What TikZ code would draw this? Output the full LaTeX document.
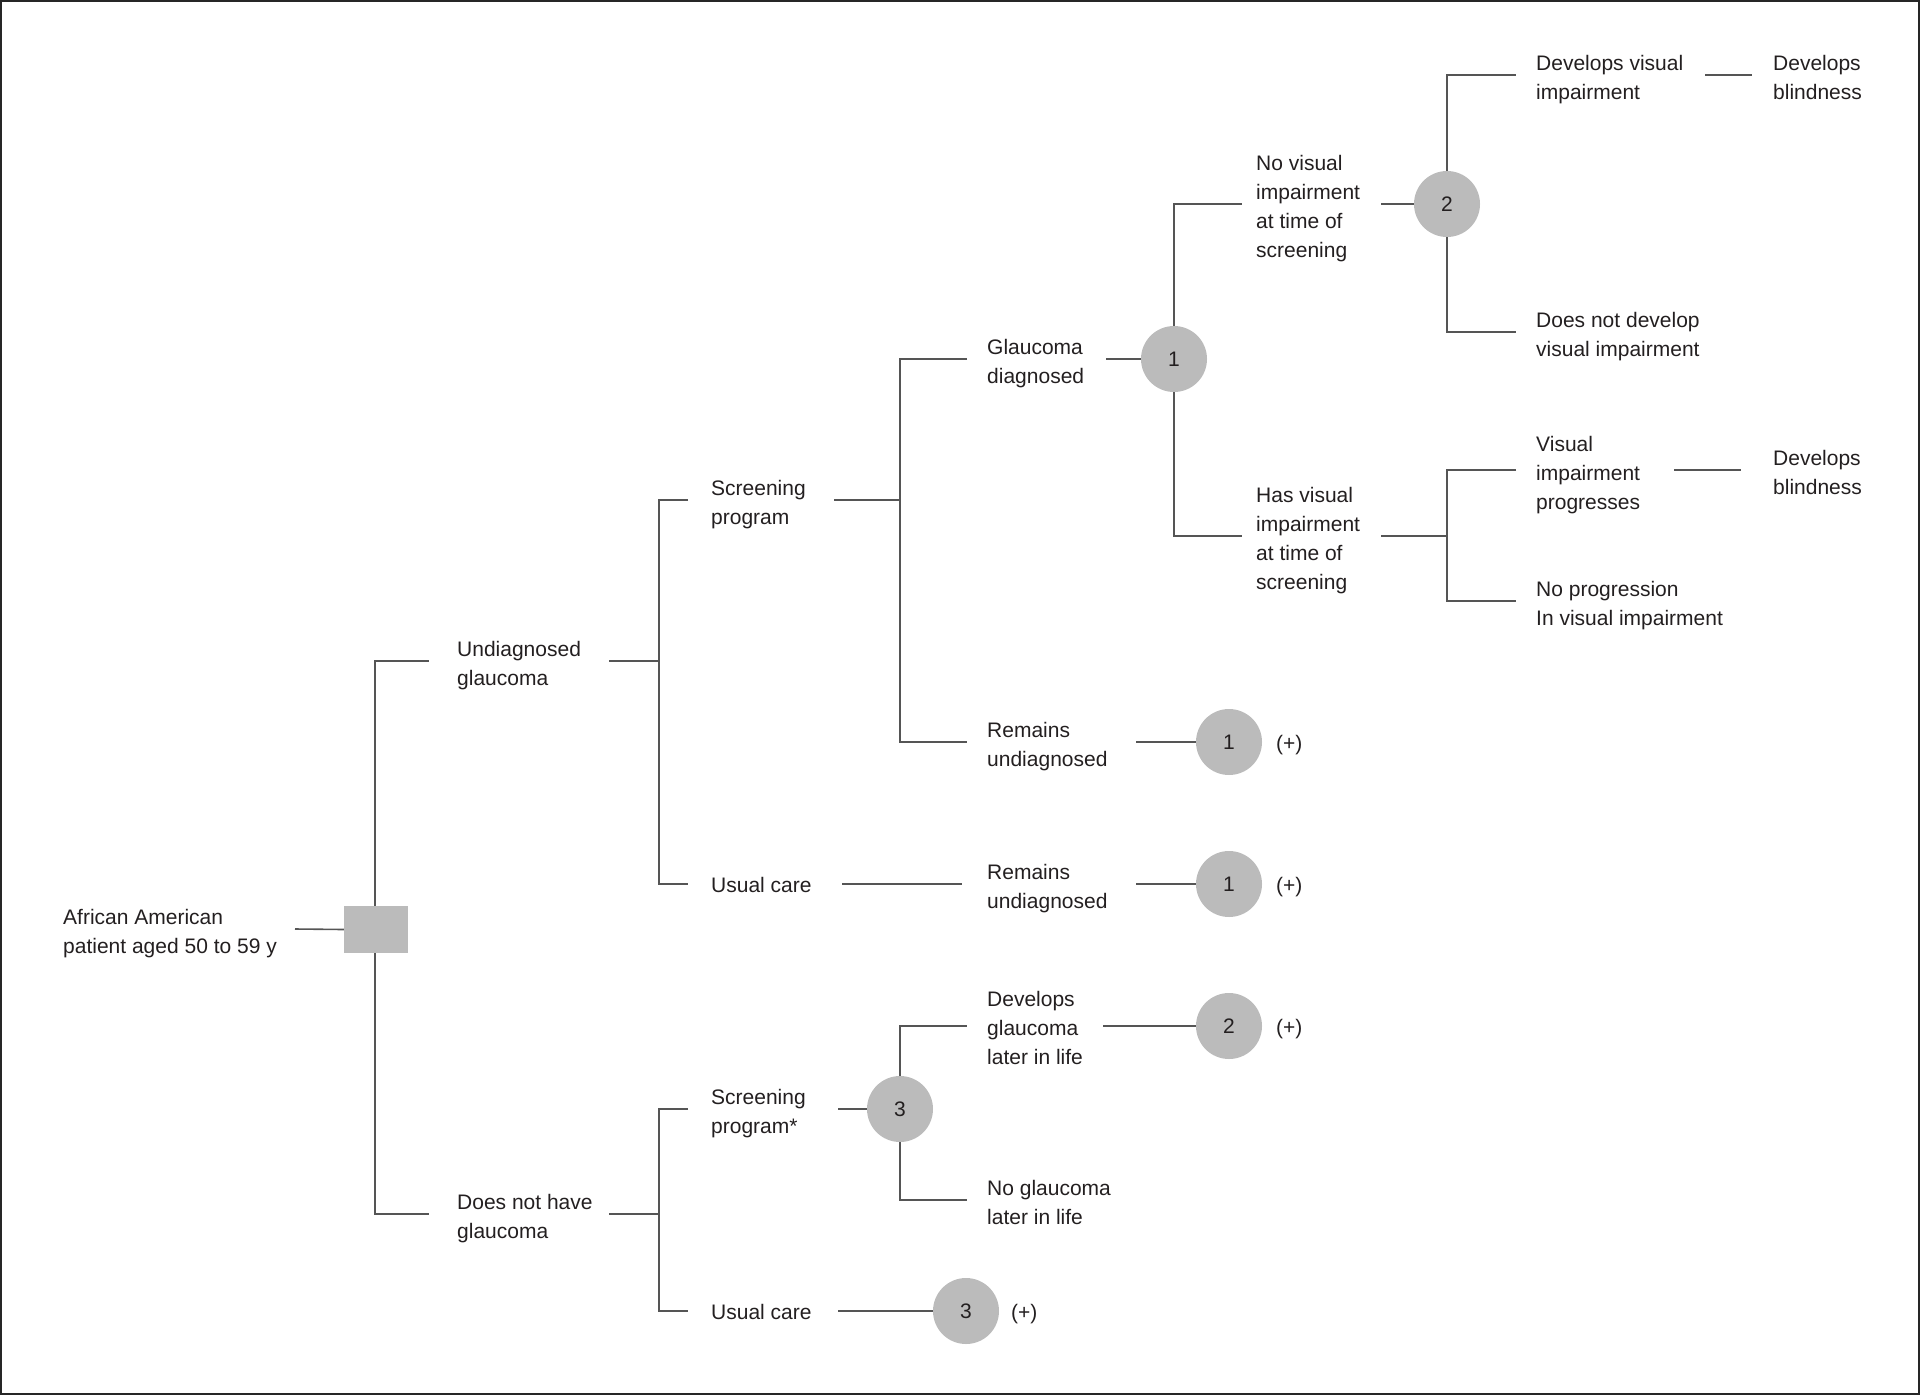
\documentclass[tikz,border=0pt]{standalone}
\usepackage{fontspec}
\setmainfont{Liberation Sans}
\definecolor{nodegray}{HTML}{BBBBBB}
\definecolor{linegray}{HTML}{555555}
\definecolor{txtcol}{HTML}{231F20}
\begin{document}
\begin{tikzpicture}[x=1pt,y=-1pt,
  txt/.style={anchor=west, inner sep=0pt, align=left, text=txtcol, font=\fontsize{21}{29}\selectfont, yshift=-5pt},
  txtnd/.style={txt, yshift=3pt},
  txtone/.style={anchor=west, inner sep=0pt, text=txtcol, font=\fontsize{21}{29}\selectfont, yshift=-1pt},
  ln/.style={draw=linegray, line width=1.6pt},
  chance/.style={circle, fill=nodegray, minimum size=66pt, inner sep=0pt, text=txtcol, font=\fontsize{21}{29}\selectfont},
  decision/.style={rectangle, fill=nodegray, minimum width=64pt, minimum height=47pt, inner sep=0pt},
  plus/.style={anchor=west, inner sep=0pt, text=txtcol, font=\fontsize{21}{29}\selectfont, yshift=-3pt}]
\useasboundingbox (0,0) rectangle (1920,1395);
\draw[draw=black!85, line width=2pt] (1,1) rectangle (1919,1394);

% ---------- nodes ----------
\node[txt] (root) at (63,929) {African American\\patient aged 50 to 59 y};
\node[decision] (sq) at (376,929.5) {};

\node[txt] (ug) at (457,661) {Undiagnosed\\glaucoma};
\node[txt] (nhg) at (457,1214) {Does not have\\glaucoma};

\node[txt] (sp) at (711,500) {Screening\\program};
\node[txtone] (uc) at (711,884) {Usual care};
\node[txt] (ru2) at (987,884) {Remains\\undiagnosed};
\node[chance] (c1c) at (1229,884) {1};
\node[plus] (p1c) at (1276,884) {(+)};

\node[txt] (gd) at (987,359) {Glaucoma\\diagnosed};
\node[chance] (c1a) at (1174,359) {1};
\node[txt] (ru1) at (987,742) {Remains\\undiagnosed};
\node[chance] (c1b) at (1229,742) {1};
\node[plus] (p1b) at (1276,742) {(+)};

\node[txt] (nv) at (1256,204) {No visual\\impairment\\at time of\\screening};
\node[chance] (c2a) at (1447,204) {2};
\node[txt] (hv) at (1256,536) {Has visual\\impairment\\at time of\\screening};

\node[txt] (dv) at (1536,75) {Develops visual\\impairment};
\node[txtnd] (db1) at (1773,75) {Develops\\blindness};
\node[txt] (dn) at (1536,332) {Does not develop\\visual impairment};
\node[txt] (vp) at (1536,470) {Visual\\impairment\\progresses};
\node[txtnd] (db2) at (1773,470) {Develops\\blindness};
\node[txt] (np) at (1536,601) {No progression\\In visual impairment};

\node[txt] (spb) at (711,1109) {Screening\\program*};
\node[chance] (c3a) at (900,1109) {3};
\node[txtnd] (dg) at (987,1026) {Develops\\glaucoma\\later in life};
\node[chance] (c2b) at (1229,1026) {2};
\node[plus] (p2b) at (1276,1026) {(+)};
\node[txtnd] (ngl) at (987,1200) {No glaucoma\\later in life};
\node[txtone] (ucb) at (711,1311) {Usual care};
\node[chance] (c3b) at (966,1311) {3};
\node[plus] (p3b) at (1011,1311) {(+)};

% ---------- connector end points ----------
\coordinate (root-out) at (295,929);
\coordinate (ug-in) at (429,661);
\coordinate (ug-out) at (609,661);
\coordinate (j-ug) at (659,661);
\coordinate (nhg-in) at (429,1214);
\coordinate (nhg-out) at (609,1214);
\coordinate (j-nhg) at (659,1214);

\coordinate (sp-in) at (688,500);
\coordinate (sp-out) at (834,500);
\coordinate (j-sp) at (900,500);
\coordinate (uc-in) at (688,884);
\coordinate (uc-out) at (842,884);
\coordinate (ru2-in) at (962,884);
\coordinate (ru2-out) at (1136,884);

\coordinate (gd-in) at (967,359);
\coordinate (gd-out) at (1106,359);
\coordinate (ru1-in) at (967,742);
\coordinate (ru1-out) at (1136,742);

\coordinate (nv-in) at (1242,204);
\coordinate (nv-out) at (1381,204);
\coordinate (hv-in) at (1242,536);
\coordinate (hv-out) at (1381,536);
\coordinate (j-hv) at (1447,536);

\coordinate (dv-in) at (1516,75);
\coordinate (dv-out) at (1705,75);
\coordinate (db1-in) at (1752,75);
\coordinate (dn-in) at (1516,332);
\coordinate (vp-in) at (1516,470);
\coordinate (vp-out) at (1674,470);
\coordinate (db2-in) at (1741,470);
\coordinate (np-in) at (1516,601);

\coordinate (spb-in) at (688,1109);
\coordinate (spb-out) at (838,1109);
\coordinate (dg-in) at (967,1026);
\coordinate (dg-out) at (1103,1026);
\coordinate (ngl-in) at (967,1200);
\coordinate (ucb-in) at (688,1311);
\coordinate (ucb-out) at (838,1311);

% ---------- connectors ----------
\draw[ln] (root-out) -- (sq.west);
\draw[ln] (sq.north -| 375,0) |- (ug-in);
\draw[ln] (sq.south -| 375,0) |- (nhg-in);

\draw[ln] (ug-out) -- (j-ug);
\draw[ln] (sp-in) -| (j-ug) |- (uc-in);
\draw[ln] (nhg-out) -- (j-nhg);
\draw[ln] (spb-in) -| (j-nhg) |- (ucb-in);

\draw[ln] (sp-out) -- (j-sp);
\draw[ln] (gd-in) -| (j-sp) |- (ru1-in);
\draw[ln] (uc-out) -- (ru2-in);
\draw[ln] (ru2-out) -- (c1c);
\draw[ln] (ru1-out) -- (c1b);

\draw[ln] (gd-out) -- (c1a);
\draw[ln] (c1a.north) |- (nv-in);
\draw[ln] (c1a.south) |- (hv-in);

\draw[ln] (nv-out) -- (c2a);
\draw[ln] (c2a.north) |- (dv-in);
\draw[ln] (c2a.south) |- (dn-in);
\draw[ln] (dv-out) -- (db1-in);

\draw[ln] (hv-out) -- (j-hv);
\draw[ln] (vp-in) -| (j-hv) |- (np-in);
\draw[ln] (vp-out) -- (db2-in);

\draw[ln] (spb-out) -- (c3a);
\draw[ln] (c3a.north) |- (dg-in);
\draw[ln] (c3a.south) |- (ngl-in);
\draw[ln] (dg-out) -- (c2b);
\draw[ln] (ucb-out) -- (c3b);
\end{tikzpicture}
\end{document}
